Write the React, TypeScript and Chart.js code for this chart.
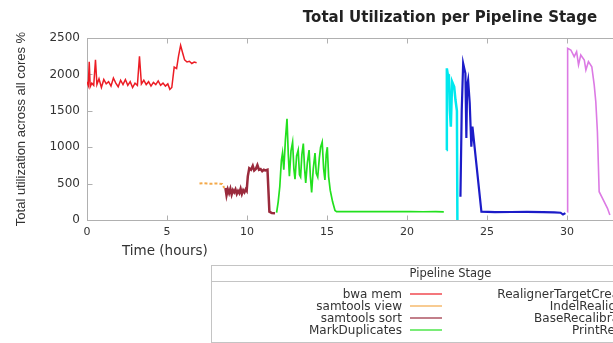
import React, { useEffect, useRef } from "react";
import { Chart, registerables } from "chart.js";

Chart.register(...registerables);

// ---- data (hours, total utilization %) ----
const stageNames = [
  "bwa mem",
  "samtools view",
  "samtools sort",
  "MarkDuplicates",
  "RealignerTargetCreator",
  "IndelRealigner",
  "BaseRecalibrator",
  "PrintReads",
];

const bwaMemHours = [0, 0.08, 0.14, 0.2, 0.3, 0.42, 0.53, 0.62, 0.75, 0.9, 1.05, 1.2, 1.35, 1.5, 1.65, 1.8, 1.95, 2.1, 2.25, 2.4, 2.55, 2.7, 2.85, 3.0, 3.15, 3.28, 3.4, 3.55, 3.7, 3.85, 4.0, 4.15, 4.3, 4.45, 4.6, 4.75, 4.9, 5.05, 5.18, 5.3, 5.45, 5.6, 5.72, 5.85, 5.97, 6.1, 6.25, 6.4, 6.55, 6.7, 6.85];
const bwaMemUtil = [1900, 1850, 2175, 1830, 1880, 1850, 2200, 1860, 1940, 1820, 1930, 1870, 1900, 1840, 1950, 1880, 1830, 1920, 1860, 1930, 1850, 1900, 1820, 1880, 1850, 2250, 1870, 1920, 1860, 1900, 1840, 1890, 1860, 1910, 1850, 1880, 1840, 1870, 1795, 1820, 2100, 2080, 2250, 2400, 2300, 2200, 2170, 2180, 2150, 2170, 2160];

const samViewHours = [7.03, 7.25, 7.5, 7.75, 8.0, 8.25, 8.45, 8.58];
const samViewUtil = [500, 505, 500, 498, 502, 500, 495, 440];

const samSortHours = [8.65, 8.72, 8.8, 8.88, 8.96, 9.04, 9.12, 9.2, 9.28, 9.36, 9.44, 9.52, 9.6, 9.68, 9.76, 9.84, 9.92, 9.98, 10.05, 10.14, 10.25, 10.36, 10.45, 10.55, 10.65, 10.75, 10.85, 10.95, 11.05, 11.15, 11.28, 11.4, 11.55, 11.75];
const samSortUtil = [440, 340, 420, 370, 430, 350, 410, 380, 420, 360, 400, 370, 430, 360, 410, 380, 420, 400, 600, 710, 690, 745, 680, 700, 755, 690, 700, 670, 690, 680, 690, 114, 95, 92];

const markDupHours = [11.85, 11.95, 12.05, 12.15, 12.22, 12.3, 12.4, 12.5, 12.58, 12.65, 12.75, 12.85, 12.93, 13.0, 13.1, 13.2, 13.28, 13.35, 13.43, 13.52, 13.6, 13.67, 13.77, 13.88, 13.96, 14.04, 14.14, 14.25, 14.33, 14.42, 14.52, 14.6, 14.7, 14.79, 14.87, 14.95, 15.02, 15.1, 15.2, 15.35, 15.5, 15.6, 16.2, 17.0, 17.8, 18.6, 19.4, 20.2, 21.0, 21.8, 22.3];
const markDupUtil = [100, 250, 460, 820, 920, 690, 1100, 1390, 900, 600, 950, 1070, 700, 560, 880, 960, 620, 590, 900, 1050, 700, 510, 780, 960, 600, 380, 700, 920, 640, 590, 850, 1000, 1070, 700, 550, 900, 1000, 600, 410, 250, 130, 115, 116, 114, 116, 115, 114, 115, 113, 115, 112];

const rtcHours = [22.47, 22.49, 22.55, 22.62, 22.68, 22.74, 22.82, 22.95, 23.03, 23.12, 23.15];
const rtcUtil = [960, 2083, 2000, 1990, 1500, 1282, 1900, 1830, 1648, 1500, 0];

const indelHours = [23.34, 23.42, 23.51, 23.58, 23.65, 23.71, 23.76, 23.82, 23.92, 24.02, 24.09, 24.65, 25.5, 26.5, 27.5, 28.5, 29.2, 29.6, 29.75, 29.9];
const indelUtil = [320, 1500, 2150, 2080, 2015, 1125, 1850, 1923, 1607, 1007, 1282, 114, 108, 110, 112, 108, 106, 100, 75, 95];

const bqsrHours = [30.02, 30.04, 30.24, 30.45, 30.6, 30.72, 30.86, 31.08, 31.18, 31.34, 31.55, 31.7, 31.8, 31.9, 32.01, 32.22, 32.53, 32.68];
const bqsrUtil = [110, 2358, 2335, 2243, 2312, 2130, 2266, 2198, 2060, 2175, 2106, 1855, 1625, 1213, 389, 297, 160, 69];

const printReadsHours: number[] = [];
const printReadsUtil: number[] = [];

const xMaxHours = 50.5;
const xStepHours = 5;
const yMaxUtil = 2500;
const yStepUtil = 500;

// ---- styles ----
const stageColors = ["#ec1c24", "#f4a94a", "#9a2a3c", "#22e01e", "#00e8ee", "#1c1cc8", "#dc7ae4", "#8b5a2b"];
const stageWidths = [1.5, 2, 2.5, 1.7, 2.5, 2.2, 1.6, 1.6];

export default function App() {
  const canvasRef = useRef<HTMLCanvasElement>(null);

  useEffect(() => {
    const series: [number[], number[]][] = [
      [bwaMemHours, bwaMemUtil],
      [samViewHours, samViewUtil],
      [samSortHours, samSortUtil],
      [markDupHours, markDupUtil],
      [rtcHours, rtcUtil],
      [indelHours, indelUtil],
      [bqsrHours, bqsrUtil],
      [printReadsHours, printReadsUtil],
    ];
    const datasets = stageNames.map((name, i) => ({
      label: name,
      data: series[i][0].map((t, k) => ({ x: t, y: series[i][1][k] })),
      borderColor: stageColors[i],
      backgroundColor: stageColors[i],
      borderWidth: stageWidths[i],
      borderDash: i === 1 ? [3, 2] : [],
      pointRadius: 0,
      tension: 0,
      fill: false,
    }));

    const frame = {
      id: "gnuplotFrame",
      beforeDatasetsDraw(chart: any) {
        const { ctx, chartArea } = chart;
        const l = Math.round(chartArea.left) + 0.5;
        const r = Math.round(chartArea.right) - 0.5;
        const t = Math.round(chartArea.top) + 0.5;
        const b = Math.round(chartArea.bottom) + 0.5;
        ctx.save();
        ctx.strokeStyle = "#b0b0b0";
        ctx.lineWidth = 1;
        ctx.strokeRect(l, t, r - l, b - t);
        const xs = chart.scales.x;
        const ys = chart.scales.y;
        ctx.beginPath();
        xs.ticks.forEach((tk: any) => {
          const px = Math.round(xs.getPixelForValue(tk.value)) + 0.5;
          ctx.moveTo(px, b);
          ctx.lineTo(px, b - 5);
          ctx.moveTo(px, t);
          ctx.lineTo(px, t + 5);
        });
        ys.ticks.forEach((tk: any) => {
          const py = Math.round(ys.getPixelForValue(tk.value)) + 0.5;
          ctx.moveTo(l, py);
          ctx.lineTo(l + 5, py);
          ctx.moveTo(r, py);
          ctx.lineTo(r - 5, py);
        });
        ctx.stroke();
        ctx.restore();
      },
    };

    const chart = new Chart(canvasRef.current as HTMLCanvasElement, {
      type: "line",
      data: { datasets } as any,
      options: {
        responsive: false,
        animation: false,
        devicePixelRatio: 1,
        layout: { padding: 0 },
        plugins: {
          legend: { display: false },
          tooltip: { enabled: false },
          title: {
            display: true,
            text: "Total Utilization per Pipeline Stage",
            color: "#222",
            font: { family: "DejaVu Sans", size: 15, weight: "bold" },
            padding: { top: 9, bottom: 11 },
          },
        },
        scales: {
          x: {
            type: "linear",
            min: 0,
            max: xMaxHours,
            afterFit: (s: any) => {
              s.height = 123;
            },
            ticks: {
              stepSize: xStepHours,
              includeBounds: false,
              autoSkip: false,
              maxRotation: 0,
              padding: 6,
              color: "#333",
              font: { family: "DejaVu Sans", size: 11 },
              callback: (v: any) => String(v),
            },
            grid: { display: false, drawTicks: false },
            border: { display: false },
          },
          y: {
            type: "linear",
            min: 0,
            max: yMaxUtil,
            afterFit: (s: any) => {
              s.width = 87;
            },
            ticks: {
              stepSize: yStepUtil,
              padding: 7,
              color: "#333",
              font: { family: "DejaVu Sans", size: 12 },
              callback: (v: any) => String(v),
            },
            title: {
              display: true,
              text: "Total utilization across all cores %",
              color: "#333",
              font: { family: "Liberation Sans", size: 13 },
              padding: { top: 14, bottom: 0 },
            },
            grid: { display: false, drawTicks: false },
            border: { display: false },
          },
        },
      } as any,
      plugins: [frame],
    });
    return () => chart.destroy();
  }, []);

  const rowTops = [22, 34, 46, 58];
  const textStyle: React.CSSProperties = {
    position: "absolute",
    width: 190,
    textAlign: "right",
    fontSize: 12,
    lineHeight: "12px",
    height: 12,
    whiteSpace: "nowrap",
  };

  return (
    <div
      style={{
        position: "fixed",
        left: 0,
        top: 0,
        width: 613,
        height: 343,
        overflow: "hidden",
        background: "#fff",
      }}
    >
      <div style={{ position: "relative", width: 900, height: 343 }}>
        <canvas ref={canvasRef} width={900} height={343} style={{ display: "block" }} />
        <div
          style={{
            position: "absolute",
            left: 122,
            top: 242,
            fontFamily: "DejaVu Sans",
            fontSize: 13.5,
            lineHeight: "16px",
            color: "#333",
            whiteSpace: "nowrap",
          }}
        >
          Time (hours)
        </div>
        <div
          style={{
            position: "absolute",
            left: 211,
            top: 265,
            width: 479,
            height: 78,
            boxSizing: "border-box",
            border: "1px solid #c4c4c4",
            fontFamily: "DejaVu Sans",
            color: "#333",
          }}
        >
          <div
            style={{
              position: "absolute",
              left: 0,
              right: 0,
              top: 0,
              height: 15,
              lineHeight: "15px",
              fontSize: 11.5,
              textAlign: "center",
              borderBottom: "1px solid #c4c4c4",
            }}
          >
            Pipeline Stage
          </div>
          {stageNames.map((name, i) => {
            const col = Math.floor(i / 4);
            const row = i % 4;
            const baseLeft = col === 0 ? 0 : 234;
            return (
              <React.Fragment key={name}>
                <div style={{ ...textStyle, left: baseLeft, top: rowTops[row] }}>{name}</div>
                <div
                  style={{
                    position: "absolute",
                    left: baseLeft + 198,
                    top: rowTops[row] + 5,
                    width: 32,
                    height: 2,
                    background: stageColors[i],
                    opacity: 0.6,
                  }}
                />
              </React.Fragment>
            );
          })}
        </div>
      </div>
    </div>
  );
}
